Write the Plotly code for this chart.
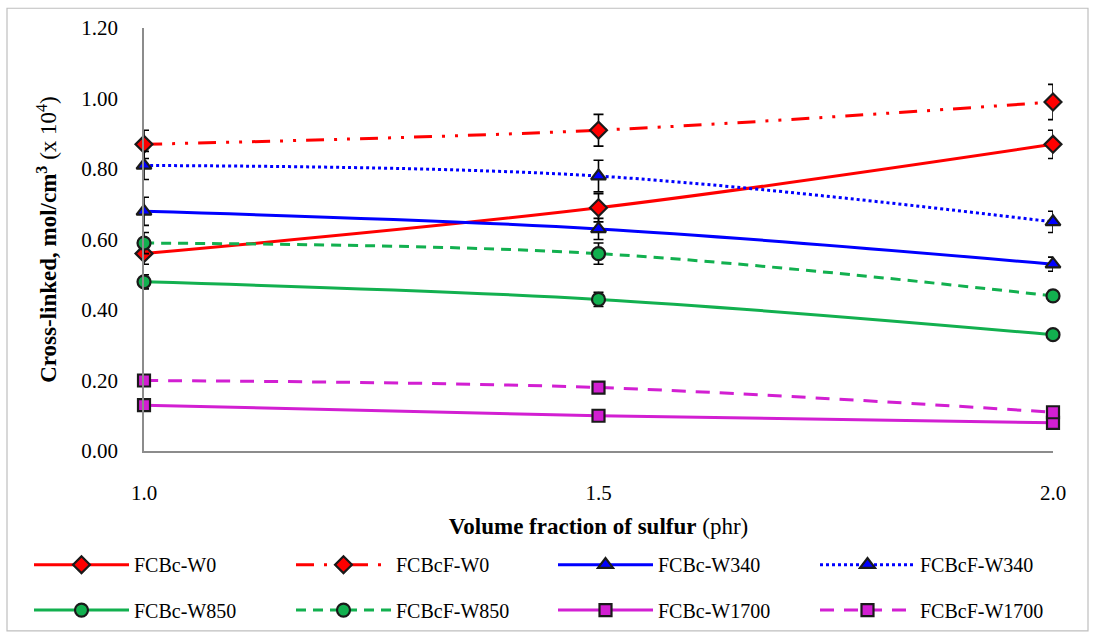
import plotly.graph_objects as go

x_vals = [1.0, 1.5, 2.0]
names = ["FCBc-W0", "FCBcF-W0", "FCBc-W340", "FCBcF-W340",
         "FCBc-W850", "FCBcF-W850", "FCBc-W1700", "FCBcF-W1700"]
fcbc_w0 = [0.56, 0.69, 0.87]
fcbcf_w0 = [0.87, 0.91, 0.99]
fcbc_w340 = [0.68, 0.63, 0.53]
fcbcf_w340 = [0.81, 0.78, 0.65]
fcbc_w850 = [0.48, 0.43, 0.33]
fcbcf_w850 = [0.59, 0.56, 0.44]
fcbc_w1700 = [0.13, 0.10, 0.08]
fcbcf_w1700 = [0.20, 0.18, 0.11]

err_fcbc_w0 = [0.03, 0.04, 0.04]
err_fcbcf_w0 = [0.04, 0.045, 0.05]
err_fcbc_w340 = [0.04, 0.03, 0.02]
err_fcbcf_w340 = [0.04, 0.045, 0.03]
err_fcbc_w850 = [0.02, 0.02, 0.01]
err_fcbcf_w850 = [0.03, 0.03, 0.015]
err_fcbc_w1700 = [0.01, 0.01, 0.01]
err_fcbcf_w1700 = [0.01, 0.01, 0.01]

y_ticks = [0.0, 0.2, 0.4, 0.6, 0.8, 1.0, 1.2]
x_ticks = [1.0, 1.5, 2.0]

RED = "#FF0000"
BLUE = "#0000FF"
GREEN = "#12B04F"
MAG = "#D21FD2"

series = [
    (names[0], fcbc_w0, err_fcbc_w0, RED, "solid", "diamond", "legend"),
    (names[1], fcbcf_w0, err_fcbcf_w0, RED, "18px,10px,3px,10px,3px,10px", "diamond", "legend"),
    (names[2], fcbc_w340, err_fcbc_w340, BLUE, "solid", "triangle-up", "legend"),
    (names[3], fcbcf_w340, err_fcbcf_w340, BLUE, "dot", "triangle-up", "legend"),
    (names[4], fcbc_w850, err_fcbc_w850, GREEN, "solid", "circle", "legend2"),
    (names[5], fcbcf_w850, err_fcbcf_w850, GREEN, "10px,7px", "circle", "legend2"),
    (names[6], fcbc_w1700, err_fcbc_w1700, MAG, "solid", "square", "legend2"),
    (names[7], fcbcf_w1700, err_fcbcf_w1700, MAG, "14px,10px", "square", "legend2"),
]
sizes = {"diamond": 13, "triangle-up": 13, "circle": 13, "square": 12}

fig = go.Figure()
for name, ys, errs, col, dash, sym, leg in series:
    fig.add_trace(go.Scatter(
        x=x_vals, y=ys, name=name, mode="lines+markers",
        line=dict(color=col, width=3, dash=dash, shape="spline", smoothing=1),
        marker=dict(symbol=sym, size=sizes[sym], color=col,
                    line=dict(color="#1a1a1a", width=2.2)),
        error_y=dict(type="data", array=errs, visible=True, color="black",
                     thickness=1.6, width=5),
        cliponaxis=False,
        legend=leg,
    ))

FONT = "Liberation Serif, Times New Roman, DejaVu Serif, Liberation Sans Narrow, Liberation Sans"
W, H = 1093, 641
ml, mr, mt, mb = 144, 40, 28, 185
pw, ph = W - ml - mr, H - mt - mb

def px_x(p):
    return (p - ml) / pw

def px_y(p):
    return (H - mb - p) / ph

leg_common = dict(orientation="h", yanchor="middle", xanchor="left",
                  entrywidth=152, entrywidthmode="pixels", itemwidth=95,
                  font=dict(size=20, family=FONT), bgcolor="rgba(0,0,0,0)")

fig.update_layout(
    template="none",
    width=W, height=H,
    margin=dict(l=ml, r=mr, t=mt, b=mb),
    paper_bgcolor="white", plot_bgcolor="white",
    font=dict(family=FONT, size=20, color="black"),
    xaxis=dict(range=[1.0, 2.0], tickvals=x_ticks, ticktext=["1.0", "1.5", "2.0"],
               showline=True, linecolor="#8c8c8c", linewidth=1.5, showgrid=False,
               zeroline=False, ticks="", ticklabelstandoff=22,
               tickfont=dict(size=21, family=FONT),
               title=dict(text="<b>Volume fraction of sulfur</b> (phr)",
                          font=dict(size=23, family=FONT), standoff=14)),
    yaxis=dict(range=[0, 1.2], tickvals=y_ticks, tickformat=".2f",
               showline=True, linecolor="#8c8c8c", linewidth=1.5, showgrid=False,
               zeroline=False, ticks="", ticklabelstandoff=20,
               tickfont=dict(size=21, family=FONT),
               title=dict(text="<b>Cross-linked, mol/cm<sup>3</sup></b> (x 10<sup>4</sup>)",
                          font=dict(size=23, family=FONT), standoff=18)),
    legend=dict(x=px_x(29), y=px_y(571), **leg_common),
    legend2=dict(x=px_x(29), y=px_y(617), **leg_common),
    showlegend=True,
    shapes=[dict(type="rect", xref="paper", yref="paper",
                 x0=px_x(7), x1=px_x(1088), y0=px_y(638), y1=px_y(8),
                 line=dict(color="#bfbfbf", width=1.2), fillcolor="rgba(0,0,0,0)",
                 layer="below")],
)

fig.write_html("out.html")
